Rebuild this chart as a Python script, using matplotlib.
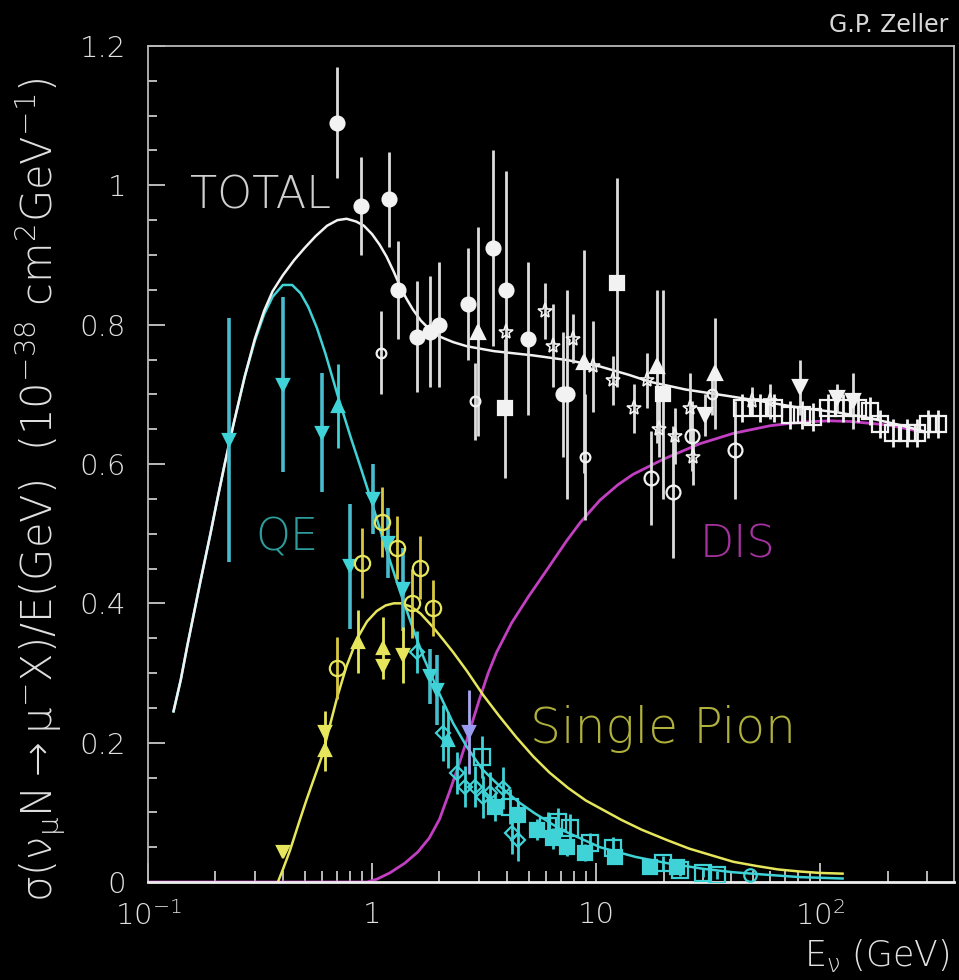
import numpy as np
import matplotlib
matplotlib.use("Agg")
import matplotlib.pyplot as plt
from matplotlib.ticker import FixedLocator, FixedFormatter, NullFormatter, MultipleLocator

plt.rcParams['font.family'] = ['DejaVu Sans']
plt.rcParams['mathtext.fontset'] = 'dejavusans'
plt.rcParams['mathtext.default'] = 'regular'

# ---------------- curves (E in GeV, sigma/E in 1e-38 cm^2/GeV) ----------------
total_E = [0.13, 0.14, 0.15, 0.171, 0.19, 0.203, 0.22, 0.24, 0.27, 0.30, 0.33, 0.36, 0.40, 0.45, 0.50,
           0.56, 0.63, 0.70, 0.77, 0.85, 0.92, 1.0, 1.08, 1.16, 1.25, 1.33, 1.42, 1.52, 1.65, 1.81,
           2.0, 2.3, 2.65, 3.5, 5.2, 7.5, 10.4, 14.0, 17.4, 25.0, 40.0, 60.0, 80.0, 120.0, 160.0,
           220.0, 290.0]
total_y = [0.245, 0.29, 0.34, 0.43, 0.50, 0.546, 0.60, 0.655, 0.725, 0.78, 0.82, 0.848, 0.871, 0.893, 0.91,
           0.927, 0.942, 0.95, 0.952, 0.948, 0.942, 0.93, 0.915, 0.898, 0.876, 0.856, 0.838, 0.822, 0.806, 0.793,
           0.783, 0.775, 0.769, 0.762, 0.756, 0.749, 0.740, 0.728, 0.718, 0.707, 0.697, 0.688, 0.681, 0.674, 0.667,
           0.657, 0.647]

qe_E = [0.13, 0.14, 0.15, 0.171, 0.19, 0.203, 0.22, 0.24, 0.27, 0.30, 0.33, 0.36, 0.40, 0.44, 0.48,
        0.52, 0.568, 0.62, 0.70, 0.80, 0.90, 0.98, 1.1, 1.2, 1.33, 1.5, 1.7, 2.0, 2.3, 2.65, 3.1,
        3.73, 4.5, 5.3, 7.0, 10.4, 15.0, 20.8, 30.0, 41.0, 60.0, 81.5, 126.0]
qe_y = [0.245, 0.29, 0.34, 0.43, 0.50, 0.546, 0.60, 0.655, 0.725, 0.777, 0.815, 0.840, 0.857, 0.857, 0.845,
        0.825, 0.795, 0.758, 0.70, 0.64, 0.59, 0.553, 0.50, 0.462, 0.418, 0.37, 0.322, 0.27, 0.228, 0.194, 0.162,
        0.137, 0.115, 0.099, 0.075, 0.05, 0.036, 0.027, 0.019, 0.014, 0.010, 0.007, 0.005]

pion_E = [0.38, 0.40, 0.43, 0.476, 0.51, 0.546, 0.60, 0.65, 0.70, 0.77, 0.86, 0.95, 1.05, 1.15, 1.25,
          1.35, 1.5, 1.65, 1.87, 2.1, 2.3, 2.65, 3.14, 3.7, 4.4, 5.25, 6.2, 7.5, 9.0, 10.4, 13.0, 16.0,
          20.8, 26.0, 33.0, 41.0, 52.0, 65.0, 81.5, 100.0, 126.0]
pion_y = [0.0, 0.018, 0.045, 0.089, 0.118, 0.145, 0.182, 0.226, 0.266, 0.31, 0.35, 0.374, 0.389, 0.397, 0.40,
          0.40, 0.395, 0.385, 0.366, 0.346, 0.33, 0.303, 0.268, 0.238, 0.208, 0.18, 0.157, 0.135, 0.117, 0.106,
          0.089, 0.075, 0.06, 0.048, 0.038, 0.029, 0.023, 0.018, 0.015, 0.013, 0.012]

dis_E = [0.1, 0.95, 1.05, 1.2, 1.4, 1.6, 1.8, 2.0, 2.22, 2.45, 2.65, 3.0, 3.3, 3.6, 4.2, 5.0, 6.0, 7.4,
         8.5, 10.4, 12.5, 14.6, 20.0, 29.0, 41.0, 60.0, 81.5, 110.0, 137.0, 200.0, 288.0]
dis_y = [0.0, 0.0, 0.004, 0.013, 0.027, 0.043, 0.063, 0.09, 0.13, 0.17, 0.204, 0.26, 0.30, 0.33, 0.372,
         0.41, 0.447, 0.49, 0.516, 0.548, 0.57, 0.585, 0.607, 0.629, 0.644, 0.655, 0.66, 0.662, 0.661, 0.656, 0.646]

# ---------------- white (total) data ----------------
w_fcirc_E = [0.698, 0.893, 1.19, 1.31, 1.59, 1.81, 1.99, 2.68, 3.47, 3.96, 4.97, 7.13, 7.43]
w_fcirc_y = [1.09, 0.97, 0.98, 0.85, 0.783, 0.79, 0.80, 0.83, 0.91, 0.85, 0.78, 0.70, 0.70]
w_fcirc_e = [0.08, 0.07, 0.068, 0.07, 0.08, 0.08, 0.09, 0.08, 0.14, 0.17, 0.11, 0.09, 0.15]

w_fsq_E = [3.92, 12.4, 19.9]
w_fsq_y = [0.68, 0.86, 0.70]
w_fsq_e = [0.10, 0.15, 0.15]

w_osq_E = [44.9, 54.0, 62.0, 73.4, 83.4, 93.2, 108.6, 126.8, 148.0, 167.0, 185.0, 212.0, 245.0, 271.0, 303.0, 336.0]
w_osq_y = [0.68, 0.68, 0.68, 0.67, 0.67, 0.668, 0.68, 0.68, 0.68, 0.676, 0.657, 0.645, 0.645, 0.645, 0.657, 0.657]
w_osq_e = [0.02, 0.02, 0.02, 0.02, 0.02, 0.02, 0.02, 0.02, 0.02, 0.02, 0.02, 0.02, 0.02, 0.02, 0.02, 0.02]

w_ocirc_E = [17.5, 22.1, 26.8, 41.8]
w_ocirc_y = [0.58, 0.56, 0.64, 0.62]
w_ocirc_e = [0.068, 0.095, 0.05, 0.07]

w_xcirc_E = [1.10, 2.88, 8.93, 33.0]
w_xcirc_y = [0.76, 0.69, 0.61, 0.70]
w_xcirc_e = [0.06, 0.055, 0.09, 0.03]

w_star_E = [3.96, 5.92, 6.43, 7.89, 9.70, 11.9, 14.8, 16.9, 19.0, 22.5, 26.3, 27.0, 49.7, 59.8]
w_star_y = [0.79, 0.82, 0.77, 0.78, 0.74, 0.72, 0.68, 0.72, 0.65, 0.64, 0.68, 0.61, 0.69, 0.69]
w_star_e = [0.0, 0.04, 0.06, 0.035, 0.065, 0.035, 0.035, 0.04, 0.04, 0.04, 0.05, 0.04, 0.02, 0.025]

w_tup_E = [2.97, 8.84, 18.7, 34.0]
w_tup_y = [0.79, 0.747, 0.74, 0.73]
w_tup_e = [0.15, 0.16, 0.11, 0.08]

w_tdn_E = [30.7, 81.5, 119.0, 140.0]
w_tdn_y = [0.67, 0.71, 0.695, 0.69]
w_tdn_e = [0.03, 0.04, 0.02, 0.04]

# ---------------- cyan (QE) data ----------------
c_tdn_E = [0.23, 0.40, 0.60, 0.80, 1.01, 1.18, 1.37, 1.81, 1.95]
c_tdn_y = [0.635, 0.714, 0.645, 0.453, 0.55, 0.487, 0.42, 0.295, 0.276]
c_tdn_e = [0.175, 0.125, 0.085, 0.09, 0.05, 0.05, 0.06, 0.04, 0.05]

c_tup_E = [0.705, 2.18]
c_tup_y = [0.683, 0.204]
c_tup_e = [0.06, 0.04]

c_dia_E = [1.59, 2.07, 2.39, 2.60, 2.88, 3.13, 3.36, 3.85, 4.22, 4.49]
c_dia_y = [0.33, 0.214, 0.157, 0.137, 0.137, 0.122, 0.128, 0.135, 0.07, 0.06]
c_dia_e = [0.03, 0.04, 0.03, 0.03, 0.03, 0.03, 0.03, 0.03, 0.03, 0.03]

c_fsq_E = [3.54, 4.49, 5.46, 6.43, 7.43, 8.93, 12.2, 17.4, 23.0]
c_fsq_y = [0.108, 0.096, 0.075, 0.063, 0.05, 0.042, 0.036, 0.022, 0.022]
c_fsq_e = [0.02, 0.02, 0.015, 0.015, 0.012, 0.012, 0.01, 0.008, 0.008]

c_osq_E = [3.10, 4.13, 6.11, 6.76, 7.66, 9.40, 11.9, 19.9, 23.7, 30.0, 34.7]
c_osq_y = [0.18, 0.108, 0.08, 0.086, 0.078, 0.056, 0.049, 0.027, 0.017, 0.013, 0.01]
c_osq_e = [0.03, 0.025, 0.02, 0.02, 0.02, 0.015, 0.015, 0.01, 0.008, 0.006, 0.006]

c_ocirc_E = [48.7]
c_ocirc_y = [0.01]

p_tdn_E = [2.71]
p_tdn_y = [0.215]
p_tdn_e = [0.06]

# ---------------- yellow (single pion) data ----------------
y_ocirc_E = [0.70, 0.90, 1.11, 1.29, 1.51, 1.64, 1.87]
y_ocirc_y = [0.307, 0.458, 0.517, 0.48, 0.40, 0.451, 0.393]
y_ocirc_e = [0.045, 0.05, 0.05, 0.045, 0.05, 0.045, 0.04]

y_tup_E = [0.617, 0.866, 1.12]
y_tup_y = [0.19, 0.345, 0.336]
y_tup_e = [0.03, 0.045, 0.045]

y_tdn_E = [0.40, 0.617, 1.12, 1.37]
y_tdn_y = [0.043, 0.216, 0.31, 0.326]
y_tdn_e = [0.0, 0.03, 0.0, 0.04]

xtick_vals = [0.1, 1, 10, 100]
xtick_labels = ['$10^{-1}$', '1', '10', '$10^{2}$']
ytick_vals = [0, 0.2, 0.4, 0.6, 0.8, 1.0, 1.2]
ytick_labels = ['0', '0.2', '0.4', '0.6', '0.8', '1', '1.2']

# ---------------- colours ----------------
WHITE = '#f2f2f2'
CYAN = '#3fd2d6'
YELLOW = '#e6e65c'
MAGENTA = '#c23fc2'

fig = plt.figure(figsize=(9.59, 9.8), dpi=100, facecolor='black')
ax = fig.add_axes([148/959, 98/980, 806/959, 836/980], facecolor='black')
ax.set_xscale('log')
ax.set_xlim(0.1, 396)
ax.set_ylim(0, 1.2)

# curves
ax.plot(dis_E, dis_y, color=MAGENTA, lw=2.0, zorder=2)
ax.plot(pion_E, pion_y, color=YELLOW, lw=1.8, zorder=2)
ax.plot(qe_E, qe_y, color=CYAN, lw=1.8, zorder=2)
ax.plot(total_E, total_y, color=WHITE, lw=1.8, zorder=2.2)


def eb(E, y, e, marker, color, ms, filled=True, ecolor=None, elw=2.0, mew=1.6, z=3):
    ax.errorbar(E, y, yerr=e, fmt=marker, color=ecolor or color, ecolor=ecolor or color,
                mfc=color if filled else 'none', mec=color, ms=ms, mew=mew,
                elinewidth=elw, capsize=0, zorder=z)


# white data
eb(w_fcirc_E, w_fcirc_y, w_fcirc_e, 'o', WHITE, 10, ecolor='#dddddd')
eb(w_fsq_E, w_fsq_y, w_fsq_e, 's', WHITE, 10, ecolor='#dddddd')
eb(w_osq_E, w_osq_y, w_osq_e, 's', WHITE, 11, filled=False)
eb(w_ocirc_E, w_ocirc_y, w_ocirc_e, 'o', WHITE, 10, filled=False, ecolor='#dddddd')
eb(w_xcirc_E, w_xcirc_y, w_xcirc_e, 'o', WHITE, 7, filled=False, ecolor='#dddddd')
eb(w_star_E, w_star_y, w_star_e, '*', WHITE, 11, filled=False, mew=1.2, ecolor='#dddddd')
eb(w_tup_E, w_tup_y, w_tup_e, '^', WHITE, 10, ecolor='#dddddd')
eb(w_tdn_E, w_tdn_y, w_tdn_e, 'v', WHITE, 10, ecolor='#dddddd')

# cyan data
eb(c_tdn_E, c_tdn_y, c_tdn_e, 'v', CYAN, 9, ecolor='#48bccc', elw=2.6)
eb(c_tup_E, c_tup_y, c_tup_e, '^', CYAN, 9)
eb(c_dia_E, c_dia_y, c_dia_e, 'D', CYAN, 7, filled=False)
eb(c_fsq_E, c_fsq_y, c_fsq_e, 's', CYAN, 10)
eb(c_osq_E, c_osq_y, c_osq_e, 's', CYAN, 11, filled=False)
eb(c_ocirc_E, c_ocirc_y, [0.0], 'o', CYAN, 9, filled=False)
eb(p_tdn_E, p_tdn_y, p_tdn_e, 'v', '#9a9af0', 9, ecolor='#a8a8f0')

# yellow data
eb(y_ocirc_E, y_ocirc_y, y_ocirc_e, 'o', YELLOW, 11, filled=False, ecolor='#d8c840')
eb(y_tup_E, y_tup_y, y_tup_e, '^', YELLOW, 9)
eb(y_tdn_E, y_tdn_y, y_tdn_e, 'v', YELLOW, 9)

# axes styling
for s in ['top', 'right', 'left']:
    ax.spines[s].set_color('#b8b8b8')
    ax.spines[s].set_linewidth(1.3)
ax.spines['bottom'].set_color('#eeeeee')
ax.spines['bottom'].set_linewidth(2.0)

ax.xaxis.set_major_locator(FixedLocator(xtick_vals))
ax.xaxis.set_major_formatter(FixedFormatter(xtick_labels))
ax.xaxis.set_minor_locator(FixedLocator([m * 10.0 ** d for d in (-1, 0, 1, 2) for m in range(2, 10)]))
ax.xaxis.set_minor_formatter(NullFormatter())
ax.yaxis.set_major_locator(FixedLocator(ytick_vals))
ax.yaxis.set_major_formatter(FixedFormatter(ytick_labels))
ax.yaxis.set_minor_locator(MultipleLocator(0.05))

ax.tick_params(axis='both', which='both', direction='in', top=False, right=False,
               color='#c8c8c8', labelcolor='#e0e0e0', labelsize=21)
ax.tick_params(axis='x', which='major', length=14, width=1.3, pad=14)
ax.tick_params(axis='x', which='minor', length=8, width=1.3)
ax.tick_params(axis='y', which='major', length=12, width=1.3, pad=16)
ax.tick_params(axis='y', which='minor', length=6.5, width=1.3)
for lab in ax.get_xticklabels() + ax.get_yticklabels():
    lab.set_fontweight('light')

# in-plot labels
ax.text(0.052, 0.806, 'TOTAL', transform=ax.transAxes, color='#cfcfcf', fontsize=32,
        va='baseline', fontweight='light')
ax.text(0.133, 0.397, 'QE', transform=ax.transAxes, color='#2e9c9c', fontsize=32,
        va='baseline', fontweight='light')
ax.text(0.685, 0.388, 'DIS', transform=ax.transAxes, color='#a5329f', fontsize=32,
        va='baseline', fontweight='light')
ax.text(0.474, 0.166, 'Single Pion', transform=ax.transAxes, color='#b0b03c', fontsize=35,
        va='baseline', fontweight='light')

fig.text(948/959, 1 - 25/980, 'G.P. Zeller', color='#d8d8d8', fontsize=17, ha='right', va='center')
fig.text(950/959, 1 - 966/980, r'$E_{\nu}$ (GeV)', color='#e0e0e0', fontsize=25, ha='right',
         va='baseline', fontweight='light')
fig.text(40/959, 1 - 490/980,
         r'$\sigma(\nu_{\mu}N \rightarrow \mu^{-}X)/E(GeV)$  $(10^{-38}$ cm$^{2}$GeV$^{-1})$',
         color='#e0e0e0', fontsize=30, rotation=90, ha='center', va='center', fontweight='light')

fig.savefig('out.png', dpi=100, facecolor='black')
